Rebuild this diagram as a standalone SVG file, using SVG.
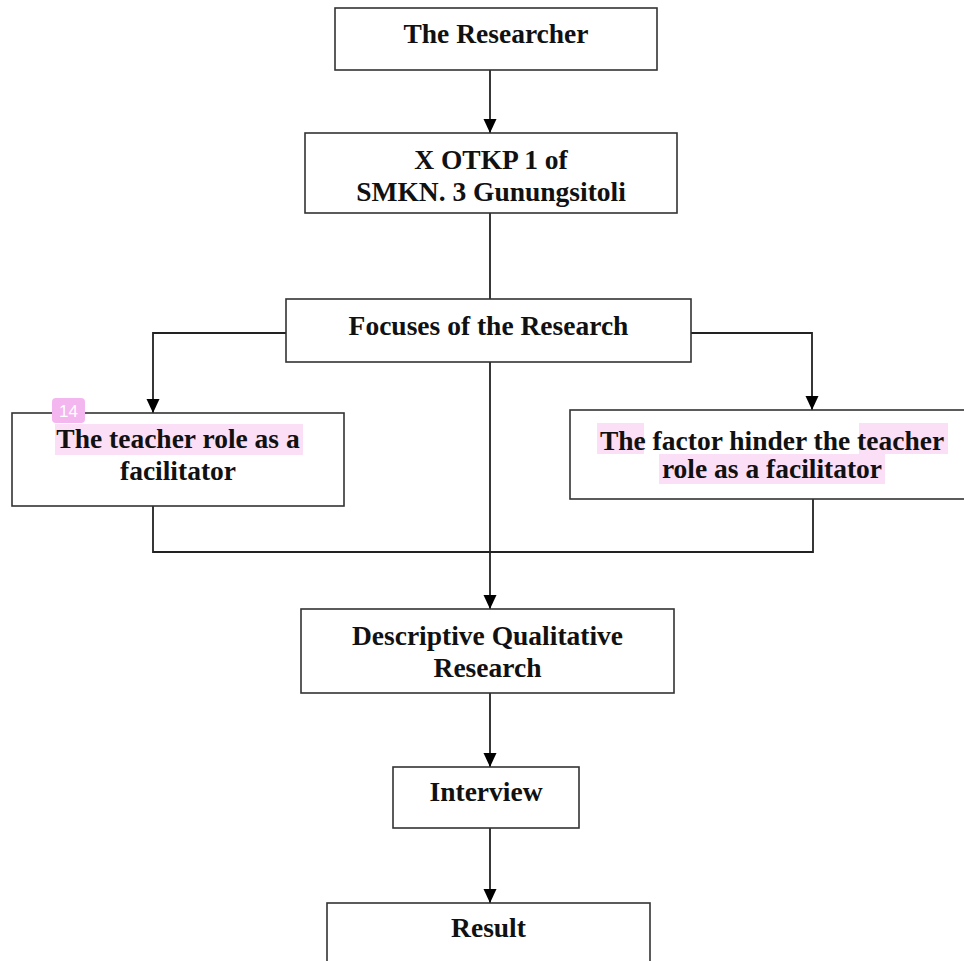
<svg xmlns="http://www.w3.org/2000/svg" width="964" height="961" viewBox="0 0 964 961">
<style>
.box{fill:#fff;stroke:#333;stroke-width:1.6}
.t{font-family:"Liberation Serif","Times New Roman",serif;font-weight:bold;font-size:27.5px;fill:#111;text-anchor:middle}
.hl{fill:#fbdff7}
.c{fill:none;stroke:#222;stroke-width:1.8}
.ah{fill:#000}
</style>
<rect width="964" height="961" fill="#fff"/>
<g id="connectors">
<path class="c" d="M490,70 V133"/>
<path class="c" d="M490,213 V299"/>
<path class="c" d="M286,333 H153 V413"/>
<path class="c" d="M691,333 H812 V410"/>
<path class="c" d="M490,362 V609"/>
<path class="c" d="M153,506 V552 H813 V499"/>
<path class="c" d="M490,693 V767"/>
<path class="c" d="M490,828 V903"/>
<path class="ah" d="M483.5,119 L496.5,119 L490,133 Z"/>
<path class="ah" d="M146.5,399 L159.5,399 L153,413 Z"/>
<path class="ah" d="M805.5,396 L818.5,396 L812,410 Z"/>
<path class="ah" d="M483.5,595 L496.5,595 L490,609 Z"/>
<path class="ah" d="M483.5,753 L496.5,753 L490,767 Z"/>
<path class="ah" d="M483.5,889 L496.5,889 L490,903 Z"/>
</g>
<g id="n1"><rect class="box" x="335" y="8" width="322" height="62"/><text class="t" x="496" y="43">The Researcher</text></g>
<g id="n2"><rect class="box" x="305" y="133" width="372" height="80"/><text class="t" x="491" y="169">X OTKP 1 of</text><text class="t" x="491" y="201">SMKN. 3 Gunungsitoli</text></g>
<g id="n3"><rect class="box" x="286" y="299" width="405" height="63"/><text class="t" x="488.5" y="335">Focuses of the Research</text></g>
<g id="n4"><rect class="box" x="12" y="413" width="332" height="93"/>
<rect class="hl" x="55" y="424" width="248" height="31"/>
<text class="t" x="178" y="448">The teacher role as a</text><text class="t" x="178" y="480">facilitator</text>
<rect x="52" y="398" width="33" height="25" rx="4" fill="#f3b6ef"/>
<text x="68.5" y="417" font-family="Liberation Sans,Arial,sans-serif" font-size="17" fill="#fff" text-anchor="middle">14</text>
</g>
<g id="n5"><rect class="box" x="570" y="410" width="400" height="89"/>
<rect class="hl" x="597" y="423" width="47" height="31"/>
<rect class="hl" x="859" y="423" width="89" height="31"/>
<rect class="hl" x="659" y="454" width="226" height="30"/>
<text class="t" x="772" y="450">The factor hinder the teacher</text><text class="t" x="772" y="478">role as a facilitator</text></g>
<g id="n6"><rect class="box" x="301" y="609" width="373" height="84"/><text class="t" x="487.5" y="645">Descriptive Qualitative</text><text class="t" x="487.5" y="677">Research</text></g>
<g id="n7"><rect class="box" x="393" y="767" width="186" height="61"/><text class="t" x="486" y="801">Interview</text></g>
<g id="n8"><rect class="box" x="327" y="903" width="323" height="70"/><text class="t" x="488.5" y="937">Result</text></g>
</svg>
